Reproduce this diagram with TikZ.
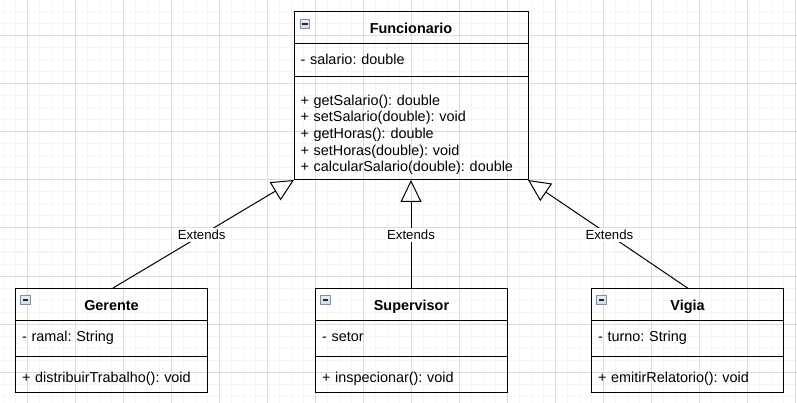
\documentclass[tikz,border=0pt]{standalone}
\usepackage{fontspec}
\setmainfont{Liberation Sans}
\usetikzlibrary{positioning,arrows.meta}

\definecolor{gridminor}{RGB}{245,245,245}
\definecolor{gridmajor}{RGB}{220,220,220}
\definecolor{iconline}{RGB}{128,144,160}
\definecolor{iconfill}{RGB}{208,216,226}

\begin{document}
\frenchspacing
\begin{tikzpicture}[
    x=1pt, y=-1pt,
    font=\fontsize{14.4}{16.7}\selectfont,
    classhead/.style={draw=black, line width=1pt, outer sep=0pt, inner sep=0pt,
      minimum height=32pt, text height=12pt, text depth=0pt,
      font=\fontsize{14.4}{16.7}\selectfont\bfseries},
    classpart/.style={draw=black, line width=1pt, outer sep=0pt, inner xsep=6.5pt,
      inner ysep=0pt, align=left},
    attrpart/.style={classpart, text height=10.5pt, text depth=3pt},
    methpart/.style={classpart, text height=16pt, text depth=0pt},
    minusicon/.style={draw=iconline, line width=0.8pt, top color=iconfill!40, bottom color=iconfill,
      minimum size=9.5pt, inner sep=0pt, outer sep=0pt,
      path picture={\draw[line width=1.6pt, black!85]
        ([xshift=2pt]path picture bounding box.west) -- ([xshift=-2pt]path picture bounding box.east);}},
    extends/.style={line width=1pt, -{Triangle[open, length=22pt, width=21pt, line width=1pt]}},
    extlabel/.style={fill=white, inner xsep=1pt, inner ysep=2pt, font=\fontsize{13.2}{15}\selectfont}
  ]
  \useasboundingbox (0,0) rectangle (797,403);

  \foreach \gx in {3,15,...,795} \draw[gridminor, line width=1pt] (\gx,0) -- (\gx,403);
  \foreach \gy in {0,12,...,403} \draw[gridminor, line width=1pt] (0,\gy) -- (797,\gy);
  \foreach \gx in {27,75,...,795} \draw[gridmajor, line width=1pt] (\gx,0) -- (\gx,403);
  \foreach \gy in {36,84,...,403} \draw[gridmajor, line width=1pt] (0,\gy) -- (797,\gy);

  \node[classhead, minimum width=234pt] (fun-title) at (411,28) {Funcionario};
  \node[attrpart, below=0pt of fun-title, text width=221pt, minimum height=33pt] (fun-attr)
    {- salario: double};
  \node[classpart, below=0pt of fun-attr, text width=221pt, minimum height=103pt] (fun-meth)
    {\rule{0pt}{23pt}+ getSalario(): double\\
     + setSalario(double): void\\
     + getHoras(): double\\
     + setHoras(double): void\\
     + calcularSalario(double): double};
  \node[minusicon, anchor=north west] (fun-icon) at ([shift={(6,7)}]fun-title.north west) {};

  \node[classhead, minimum width=192pt] (ger-title) at (111.5,304) {Gerente};
  \node[attrpart, below=0pt of ger-title, text width=179pt, minimum height=36pt] (ger-attr)
    {- ramal: String};
  \node[methpart, below=0pt of ger-attr, text width=179pt, minimum height=36pt] (ger-meth)
    {+ distribuirTrabalho(): void};
  \node[minusicon, anchor=north west] (ger-icon) at ([shift={(5,7)}]ger-title.north west) {};

  \node[classhead, minimum width=192pt] (sup-title) at (411.5,304) {Supervisor};
  \node[attrpart, below=0pt of sup-title, text width=179pt, minimum height=36pt] (sup-attr)
    {- setor};
  \node[methpart, below=0pt of sup-attr, text width=179pt, minimum height=36pt] (sup-meth)
    {+ inspecionar(): void};
  \node[minusicon, anchor=north west] (sup-icon) at ([shift={(5,7)}]sup-title.north west) {};

  \node[classhead, minimum width=192pt] (vig-title) at (687.5,304) {Vigia};
  \node[attrpart, below=0pt of vig-title, text width=179pt, minimum height=36pt] (vig-attr)
    {- turno: String};
  \node[methpart, below=0pt of vig-attr, text width=179pt, minimum height=36pt] (vig-meth)
    {+ emitirRelatorio(): void};
  \node[minusicon, anchor=north west] (vig-icon) at ([shift={(5,7)}]vig-title.north west) {};

  \draw[extends] ([xshift=1.5pt]ger-title.north) -- (fun-meth.south west)
    node[extlabel, pos=0.49] {Extends};
  \draw[extends] (sup-title.north -| fun-meth.south) -- (fun-meth.south)
    node[extlabel, pos=0.49] {Extends};
  \draw[extends] (vig-title.north) -- (fun-meth.south east)
    node[extlabel, pos=0.49] {Extends};
\end{tikzpicture}
\end{document}
